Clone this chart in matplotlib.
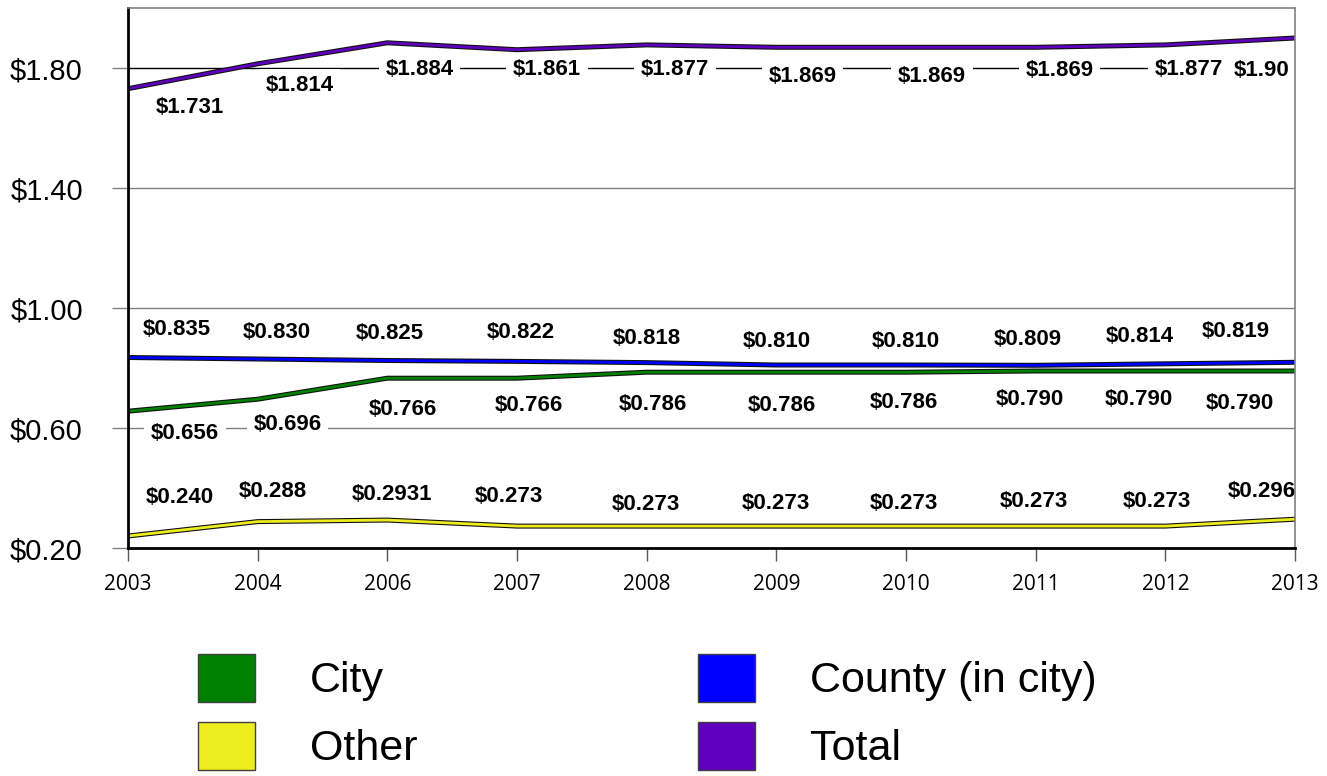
import matplotlib
matplotlib.use('Agg')
import matplotlib.pyplot as plt
import matplotlib.patheffects as pe
from matplotlib.patches import Patch

plt.rcParams['font.family'] = ['Liberation Sans', 'DejaVu Sans']

years = ['2003', '2004', '2006', '2007', '2008', '2009', '2010', '2011', '2012', '2013']

city = [0.656, 0.696, 0.766, 0.766, 0.786, 0.786, 0.786, 0.790, 0.790, 0.790]
county = [0.835, 0.830, 0.825, 0.822, 0.818, 0.810, 0.810, 0.809, 0.814, 0.819]
other = [0.240, 0.288, 0.2931, 0.273, 0.273, 0.273, 0.273, 0.273, 0.273, 0.296]
total = [1.731, 1.814, 1.884, 1.861, 1.877, 1.869, 1.869, 1.869, 1.877, 1.90]

city_labels = ['$0.656', '$0.696', '$0.766', '$0.766', '$0.786', '$0.786', '$0.786', '$0.790', '$0.790', '$0.790']
county_labels = ['$0.835', '$0.830', '$0.825', '$0.822', '$0.818', '$0.810', '$0.810', '$0.809', '$0.814', '$0.819']
other_labels = ['$0.240', '$0.288', '$0.2931', '$0.273', '$0.273', '$0.273', '$0.273', '$0.273', '$0.273', '$0.296']
total_labels = ['$1.731', '$1.814', '$1.884', '$1.861', '$1.877', '$1.869', '$1.869', '$1.869', '$1.877', '$1.90']

yticks = [0.20, 0.60, 1.00, 1.40, 1.80]

# label offsets from the point, in pixels (x right, y down)
total_off = [(62, 19), (42, 22), (32, 27), (30, 20), (28, 25), (26, 29), (26, 29), (24, 23), (24, 25), (-33, 32)]
county_off = [(49, -28), (19, -27), (2, -27), (4, -29), (0, -24), (0, -24), (0, -24), (-8, -26), (-26, -27), (-59, -31)]
city_off = [(57, 22), (30, 25), (16, 31), (12, 27), (6, 32), (6, 33), (-2, 30), (-6, 28), (-26, 28), (-55, 32)]
other_off = [(52, -39), (15, -30), (5, -26), (-8, -30), (-1, -22), (0, -23), (-2, -23), (-2, -25), (-8, -25), (-33, -28)]

colors = {'City': '#008000', 'County (in city)': '#0000FF', 'Other': '#EDED1E', 'Total': '#5F00BF'}


def main():
    fig = plt.figure(figsize=(13.27, 7.76), dpi=100)
    ax = fig.add_axes([128 / 1327, 1 - 548 / 776, (1295 - 128) / 1327, (548 - 8) / 776])

    series = [
        (other, other_labels, other_off, colors['Other']),
        (city, city_labels, city_off, colors['City']),
        (county, county_labels, county_off, colors['County (in city)']),
        (total, total_labels, total_off, colors['Total']),
    ]

    for vals, labs, offs, c in series:
        ax.plot(years, vals, color=c, lw=2.0, zorder=3, solid_joinstyle='miter',
                path_effects=[pe.Stroke(linewidth=3.6, foreground='#111111'), pe.Normal()])
        for i, (v, lab) in enumerate(zip(vals, labs)):
            dx, dy = offs[i]
            ax.annotate(lab, (i, v), xytext=(dx * 0.72, -dy * 0.72), textcoords='offset points',
                        ha='center', va='center', fontsize=16, fontweight='bold', zorder=5,
                        bbox=dict(boxstyle='square,pad=0.3', fc='white', ec='none'))

    ax.set_xlim(0, len(years) - 1)
    ax.set_ylim(0.2, 2.0)
    ax.set_yticks(yticks)
    ax.set_yticklabels(['$%.2f' % t for t in yticks])

    for t in yticks:
        gc = 'black' if t == 1.80 else '#808080'
        ax.axhline(t, color=gc, lw=1, zorder=1)

    ax.tick_params(axis='y', direction='out', length=11.5, width=1, color='#808080', pad=21, labelsize=21)
    ax.tick_params(axis='x', direction='out', length=9.5, width=1, color='#555555', pad=9, labelsize=15)
    for lab in ax.get_xticklabels():
        lab.set_fontfamily('Open Sans')

    for side in ['left', 'bottom']:
        ax.spines[side].set_linewidth(2)
        ax.spines[side].set_color('black')
    for side in ['top', 'right']:
        ax.spines[side].set_linewidth(1.2)
        ax.spines[side].set_color('#808080')
    for sp in ax.spines.values():
        sp.set_zorder(10)

    order = ['City', 'Other', 'County (in city)', 'Total']
    handles = [Patch(facecolor=colors[n], edgecolor='#404040', linewidth=1) for n in order]
    fig.legend(handles, order, loc='upper left', bbox_to_anchor=(198 / 1327, 1 - 654 / 776),
               ncol=2, frameon=False, fontsize=31, borderpad=0, borderaxespad=0,
               handlelength=1.33, handleheight=1.33, handletextpad=1.28,
               columnspacing=6.5, labelspacing=0.47)

    fig.savefig('out.png', dpi=100)


if __name__ == '__main__':
    main()
